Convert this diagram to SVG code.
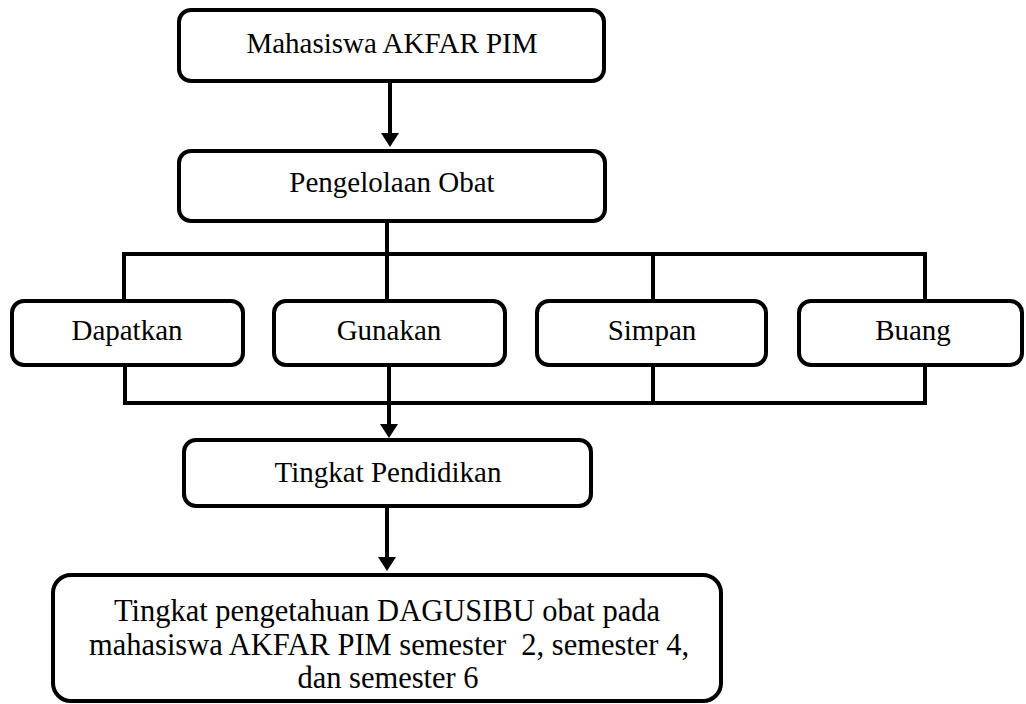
<svg xmlns="http://www.w3.org/2000/svg" width="1026" height="704" viewBox="0 0 1026 704">
  <style>
    .box { fill: #ffffff; stroke: #000000; stroke-width: 4; }
    .lbl { font-family: "Liberation Serif", "Times New Roman", serif; font-size: 29px; fill: #000000; text-anchor: middle; }
    .big { font-size: 30.5px; }
    .conn { fill: none; stroke: #000000; stroke-width: 4; }
  </style>
  <defs>
    <marker id="arrow" viewBox="0 0 14 18" markerUnits="userSpaceOnUse" markerWidth="14" markerHeight="18" refX="4" refY="9" orient="auto">
      <path d="M0,0 L14,9 L0,18 z" fill="#000000"/>
    </marker>
  </defs>
  <rect width="1026" height="704" fill="#ffffff"/>

  <g id="connectors">
    <path class="conn" d="M390,83 L390,137" marker-end="url(#arrow)"/>
    <path class="conn" d="M387,223 L387,301"/>
    <path class="conn" d="M124,301 L124,254 L925,254 L925,301"/>
    <path class="conn" d="M653,254 L653,301"/>
    <path class="conn" d="M125,365 L125,403 L925,403 L925,365"/>
    <path class="conn" d="M653,365 L653,403"/>
    <path class="conn" d="M389,365 L389,428" marker-end="url(#arrow)"/>
    <path class="conn" d="M387,508 L387,561" marker-end="url(#arrow)"/>
  </g>

  <g id="node-mahasiswa">
    <rect class="box" x="179" y="10" width="425" height="71" rx="12"/>
    <text class="lbl" x="392" y="53">Mahasiswa AKFAR PIM</text>
  </g>
  <g id="node-pengelolaan">
    <rect class="box" x="179" y="151" width="426" height="70" rx="12"/>
    <text class="lbl" x="392" y="192">Pengelolaan Obat</text>
  </g>
  <g id="node-dapatkan">
    <rect class="box" x="12" y="301" width="231" height="64" rx="12"/>
    <text class="lbl" x="127" y="340">Dapatkan</text>
  </g>
  <g id="node-gunakan">
    <rect class="box" x="274" y="301" width="231" height="64" rx="12"/>
    <text class="lbl" x="389" y="340">Gunakan</text>
  </g>
  <g id="node-simpan">
    <rect class="box" x="537" y="301" width="229" height="64" rx="12"/>
    <text class="lbl" x="652" y="340">Simpan</text>
  </g>
  <g id="node-buang">
    <rect class="box" x="799" y="301" width="223" height="64" rx="12"/>
    <text class="lbl" x="913" y="340">Buang</text>
  </g>
  <g id="node-tingkat-pendidikan">
    <rect class="box" x="184" y="440" width="407" height="66" rx="12"/>
    <text class="lbl" x="388" y="482">Tingkat Pendidikan</text>
  </g>
  <g id="node-tingkat-pengetahuan">
    <rect class="box" x="53" y="575" width="668" height="126" rx="18"/>
    <text class="lbl big" x="387" y="621">Tingkat pengetahuan DAGUSIBU obat pada</text>
    <text class="lbl big" x="389" y="655" xml:space="preserve">mahasiswa AKFAR PIM semester  2, semester 4,</text>
    <text class="lbl big" x="388" y="688">dan semester 6</text>
  </g>
</svg>
